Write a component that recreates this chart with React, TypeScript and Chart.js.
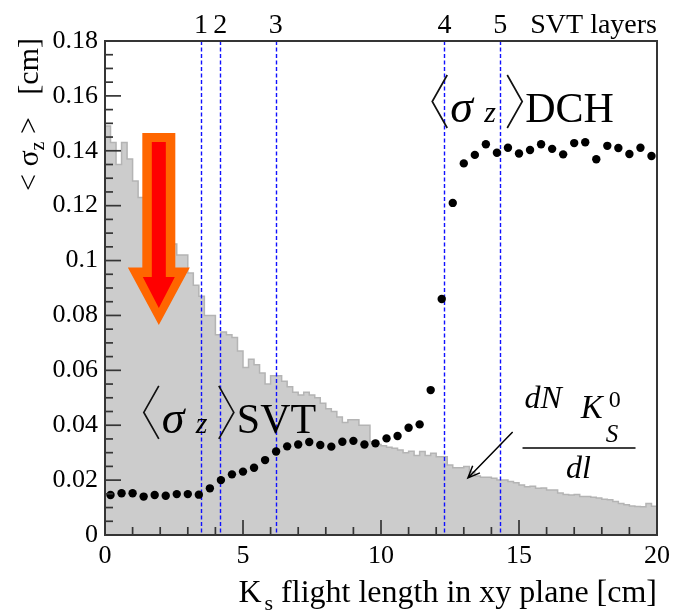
import React, { useEffect, useRef } from 'react';
import { Chart, registerables } from 'chart.js';

Chart.register(...registerables);

// dN/dl of K0S candidates, 0.2 cm bins from 0 to 20 cm (drawn on the sigma_z scale)
const HIST_X_MIN = 0;
const HIST_BIN_WIDTH = 0.2;
const dNdl = [
  0.149, 0.143, 0.135, 0.143, 0.137, 0.129, 0.123, 0.119, 0.116, 0.113,
  0.111, 0.108, 0.106, 0.102, 0.102, 0.0955, 0.091, 0.087, 0.08, 0.08,
  0.073, 0.074, 0.073, 0.072, 0.067, 0.061, 0.064, 0.062, 0.059, 0.055,
  0.058, 0.058, 0.056, 0.054, 0.052, 0.051, 0.052, 0.051, 0.05, 0.048,
  0.046, 0.045, 0.043, 0.041, 0.042, 0.042, 0.04, 0.04, 0.034, 0.033,
  0.0325, 0.032, 0.0316, 0.031, 0.03, 0.0305, 0.029, 0.0304, 0.029, 0.0298,
  0.0285, 0.0285, 0.0255, 0.0245, 0.0245, 0.025, 0.023, 0.0215, 0.021, 0.021,
  0.0207, 0.02, 0.02, 0.0195, 0.019, 0.0182, 0.0176, 0.0178, 0.017, 0.0171,
  0.0164, 0.0164, 0.0153, 0.0148, 0.0146, 0.0148, 0.014, 0.014, 0.0138, 0.0135,
  0.013, 0.0128, 0.0122, 0.0115, 0.011, 0.0106, 0.0104, 0.0103, 0.0115, 0.0105,
];

// mean sigma_z [cm] versus flight length [cm]
const flightLength = [
  0.2, 0.6, 1.0, 1.4, 1.8, 2.2, 2.6, 3.0, 3.4, 3.8,
  4.2, 4.6, 5.0, 5.4, 5.8, 6.2, 6.6, 7.0, 7.4, 7.8,
  8.2, 8.6, 9.0, 9.4, 9.8, 10.2, 10.6, 11.0, 11.4, 11.8,
  12.2, 12.6, 13.0, 13.4, 13.8, 14.2, 14.6, 15.0, 15.4, 15.8,
  16.2, 16.6, 17.0, 17.4, 17.8, 18.2, 18.6, 19.0, 19.4, 19.8,
];
const sigmaZ = [
  0.0146, 0.0152, 0.0152, 0.014, 0.0146, 0.0143, 0.0149, 0.0149, 0.0147, 0.017,
  0.02, 0.0221, 0.0231, 0.0245, 0.0273, 0.0304, 0.0323, 0.033, 0.0339, 0.0328,
  0.0322, 0.034, 0.0343, 0.033, 0.0334, 0.0352, 0.0361, 0.0391, 0.0403, 0.0528,
  0.086, 0.121, 0.1354, 0.1385, 0.1424, 0.1393, 0.1411, 0.139, 0.1403, 0.1424,
  0.1407, 0.1387, 0.1428, 0.1431, 0.1369, 0.1418, 0.141, 0.1388, 0.1411, 0.1381,
];

// SVT layer radii [cm]
const svtLayerRadius = [3.48, 4.18, 6.19, 12.3, 14.32];
const svtLayerLabels = ['1', '2', '3', '4', '5'];

const xTickValues = [0, 5, 10, 15, 20];
const xTickLabels = ['0', '5', '10', '15', '20'];
const yTickValues = [0, 0.02, 0.04, 0.06, 0.08, 0.1, 0.12, 0.14, 0.16, 0.18];
const yTickLabels = ['0', '0.02', '0.04', '0.06', '0.08', '0.1', '0.12', '0.14', '0.16', '0.18'];

const X_MIN = 0;
const X_MAX = 20;
const Y_MIN = 0;
const Y_MAX = 0.18;
const X_MINOR = 1;
const Y_MINOR = 0.005;

// annotation anchors in data units
const DCH_LABEL_AT = [11.82, 0.1505];
const SVT_LABEL_AT = [1.37, 0.0372];
const DNDL_LABEL_AT = [15.2, 0.0463];
const POINTER_FROM = [14.77, 0.0375];
const POINTER_TO = [13.15, 0.0208];
const BIG_ARROW = { x: 1.95, yTop: 0.1465, yTip: 0.0765 };

const SERIF = '"Liberation Serif", "Times New Roman", serif';
const AXIS_COLOR = '#353535';

type Run = { t: string; f: string; dy?: number; dx?: number };

function labelFor(values: number[], labels: string[], v: number) {
  const i = values.findIndex((t) => Math.abs(t - v) < 1e-9);
  return i >= 0 ? labels[i] : '';
}

function drawRuns(ctx: CanvasRenderingContext2D, x: number, y: number, runs: Run[]) {
  let cx = x;
  for (const r of runs) {
    ctx.font = r.f;
    cx += r.dx || 0;
    ctx.fillText(r.t, cx, y + (r.dy || 0));
    cx += ctx.measureText(r.t).width;
  }
  return cx;
}

function runsWidth(ctx: CanvasRenderingContext2D, runs: Run[]) {
  let w = 0;
  for (const r of runs) {
    ctx.font = r.f;
    w += ctx.measureText(r.t).width + (r.dx || 0);
  }
  return w;
}

// <sigma_z> followed by a detector name; thin angle delimiters stroked around sigma_z
function drawSigmaLabel(ctx: CanvasRenderingContext2D, x0: number, y0: number, name: string) {
  ctx.save();
  ctx.strokeStyle = '#111';
  ctx.lineWidth = 1.7;
  ctx.lineJoin = 'miter';
  ctx.beginPath();
  ctx.moveTo(x0 + 16, y0 - 47);
  ctx.lineTo(x0 + 1, y0 - 20.5);
  ctx.lineTo(x0 + 16, y0 + 6);
  ctx.moveTo(x0 + 76, y0 - 47);
  ctx.lineTo(x0 + 91, y0 - 20.5);
  ctx.lineTo(x0 + 76, y0 + 6);
  ctx.stroke();
  ctx.restore();
  const pieces: [string, string, number][] = [
    ['\u03C3', `italic 46px ${SERIF}`, 19],
    ['z', `italic 30px ${SERIF}`, 53],
    [name, `42px ${SERIF}`, 94],
  ];
  for (const [t, f, dx] of pieces) {
    ctx.font = f;
    ctx.fillText(t, x0 + dx, y0);
  }
}

const decorPlugin = {
  id: 'decor',
  afterDatasetDraw(chart: any, args: any) {
    if (args.index !== 0) return;
    const ctx = chart.ctx as CanvasRenderingContext2D;
    const { top, bottom } = chart.chartArea;
    const xs = chart.scales.x;
    ctx.save();
    ctx.strokeStyle = '#1010ff';
    ctx.lineWidth = 1.4;
    ctx.setLineDash([4, 2.5]);
    for (const r of svtLayerRadius) {
      const px = Math.round(xs.getPixelForValue(r)) + 0.5;
      ctx.beginPath();
      ctx.moveTo(px, top);
      ctx.lineTo(px, bottom);
      ctx.stroke();
    }
    ctx.restore();
  },
  afterDraw(chart: any) {
    const ctx = chart.ctx as CanvasRenderingContext2D;
    const { left, right, top, bottom } = chart.chartArea;
    const xs = chart.scales.x;
    const ys = chart.scales.y;
    const P = (xv: number, yv: number) => [xs.getPixelForValue(xv), ys.getPixelForValue(yv)];

    ctx.save();
    // frame
    ctx.strokeStyle = AXIS_COLOR;
    ctx.lineWidth = 2;
    ctx.strokeRect(left, top, right - left, bottom - top);

    // inward tick marks
    ctx.lineWidth = 1.7;
    for (let k = 0; X_MIN + k * X_MINOR <= X_MAX + 1e-9; k++) {
      const v = X_MIN + k * X_MINOR;
      const px = xs.getPixelForValue(v);
      const len = k % 5 === 0 ? 15 : 8;
      ctx.beginPath();
      ctx.moveTo(px, bottom);
      ctx.lineTo(px, bottom - len);
      ctx.stroke();
    }
    for (let k = 0; Y_MIN + k * Y_MINOR <= Y_MAX + 1e-9; k++) {
      const v = Y_MIN + k * Y_MINOR;
      const py = ys.getPixelForValue(v);
      const len = k % 4 === 0 ? 16 : 8;
      ctx.beginPath();
      ctx.moveTo(left, py);
      ctx.lineTo(left + len, py);
      ctx.stroke();
    }

    ctx.fillStyle = '#000';
    ctx.textBaseline = 'alphabetic';

    // SVT layer numbers above the frame
    ctx.font = `28px ${SERIF}`;
    ctx.textAlign = 'center';
    svtLayerRadius.forEach((r, i) => {
      ctx.fillText(svtLayerLabels[i], xs.getPixelForValue(r), top - 8);
    });
    ctx.textAlign = 'right';
    ctx.fillText('SVT layers', right, top - 8);
    ctx.textAlign = 'left';

    // big downward arrow
    {
      const [cx, yTop] = P(BIG_ARROW.x, BIG_ARROW.yTop);
      const yTip = ys.getPixelForValue(BIG_ARROW.yTip);
      const h = yTip - yTop;
      const poly = (sh: number, t: number, hb: number, hh: number, tip: number) => {
        ctx.beginPath();
        ctx.moveTo(cx - sh, t);
        ctx.lineTo(cx + sh, t);
        ctx.lineTo(cx + sh, hb);
        ctx.lineTo(cx + hh, hb);
        ctx.lineTo(cx, tip);
        ctx.lineTo(cx - hh, hb);
        ctx.lineTo(cx - sh, hb);
        ctx.closePath();
        ctx.fill();
      };
      ctx.fillStyle = '#ff6600';
      poly(16.5, yTop, yTop + h * 0.70, 31, yTip);
      ctx.fillStyle = '#ff0000';
      poly(7, yTop + 9, yTop + h * 0.75, 16, yTip - 17);
      ctx.fillStyle = '#000';
    }

    // <sigma_z>_DCH and <sigma_z>_SVT
    {
      const [x0, y0] = P(DCH_LABEL_AT[0], DCH_LABEL_AT[1]);
      drawSigmaLabel(ctx, x0, y0, 'DCH');
      const [x1, y1] = P(SVT_LABEL_AT[0], SVT_LABEL_AT[1]);
      drawSigmaLabel(ctx, x1, y1, 'SVT');
    }
    // dN_{K0S}/dl
    {
      const [x0, y0] = P(DNDL_LABEL_AT[0], DNDL_LABEL_AT[1]);
      const it = `italic 32px ${SERIF}`;
      ctx.font = it;
      ctx.fillText('dN', x0, y0);
      const kx = x0 + ctx.measureText('dN').width + 19;
      ctx.font = `italic 33px ${SERIF}`;
      ctx.fillText('K', kx, y0 + 10);
      const sx = kx + ctx.measureText('K').width + 6;
      ctx.font = `24px ${SERIF}`;
      ctx.fillText('0', sx, y0 - 1);
      ctx.font = `italic 25px ${SERIF}`;
      ctx.fillText('S', sx - 3, y0 + 34);
      ctx.lineWidth = 1.5;
      ctx.strokeStyle = '#000';
      ctx.beginPath();
      ctx.moveTo(x0 - 2, y0 + 40);
      ctx.lineTo(x0 + 111, y0 + 40);
      ctx.stroke();
      ctx.font = it;
      ctx.textAlign = 'center';
      ctx.fillText('dl', x0 + 54, y0 + 70);
      ctx.textAlign = 'left';
    }
    // pointer to the histogram
    {
      const [ax, ay] = P(POINTER_FROM[0], POINTER_FROM[1]);
      const [bx, by] = P(POINTER_TO[0], POINTER_TO[1]);
      ctx.strokeStyle = '#000';
      ctx.lineWidth = 1.5;
      ctx.beginPath();
      ctx.moveTo(ax, ay);
      ctx.lineTo(bx, by);
      const ang = Math.atan2(ay - by, ax - bx);
      const L = 13;
      ctx.moveTo(bx + L * Math.cos(ang + 0.4), by + L * Math.sin(ang + 0.4));
      ctx.lineTo(bx, by);
      ctx.lineTo(bx + L * Math.cos(ang - 0.4), by + L * Math.sin(ang - 0.4));
      ctx.stroke();
    }

    // x-axis title
    {
      const runs: Run[] = [
        { t: 'K', f: `32px ${SERIF}` },
        { t: 's', f: `22px ${SERIF}`, dy: 8, dx: 3 },
        { t: ' flight length in xy plane [cm]', f: `32px ${SERIF}` },
      ];
      const w = runsWidth(ctx, runs);
      drawRuns(ctx, right - w, 602, runs);
    }
    // y-axis title (rotated)
    {
      const runs: Run[] = [
        { t: '< ', f: `30px ${SERIF}` },
        { t: '\u03C3', f: `30px ${SERIF}` },
        { t: 'z', f: `20px ${SERIF}`, dy: 6 },
        { t: ' >   [cm]', f: `30px ${SERIF}` },
      ];
      const w = runsWidth(ctx, runs);
      ctx.save();
      ctx.translate(38, top - 3);
      ctx.rotate(-Math.PI / 2);
      drawRuns(ctx, -w, 0, runs);
      ctx.restore();
    }
    ctx.restore();
  },
};

export default function App() {
  const canvasRef = useRef<HTMLCanvasElement | null>(null);

  useEffect(() => {
    const canvas = canvasRef.current;
    if (!canvas) return;

    const histPoints = dNdl.map((v, k) => ({ x: HIST_X_MIN + k * HIST_BIN_WIDTH, y: v }));
    histPoints.push({ x: HIST_X_MIN + dNdl.length * HIST_BIN_WIDTH, y: dNdl[dNdl.length - 1] });
    const sigmaPoints = flightLength.map((x, i) => ({ x, y: sigmaZ[i] }));

    const chart = new Chart(canvas, {
      type: 'scatter',
      data: {
        datasets: [
          {
            data: histPoints,
            showLine: true,
            stepped: true,
            fill: 'origin',
            backgroundColor: '#cccccc',
            borderColor: '#b4b4b4',
            borderWidth: 1.5,
            pointRadius: 0,
            order: 2,
          } as any,
          {
            data: sigmaPoints,
            showLine: false,
            pointRadius: 4.2,
            pointBackgroundColor: '#000',
            pointBorderWidth: 0,
            order: 1,
          } as any,
        ],
      },
      options: {
        responsive: false,
        animation: false,
        events: [],
        layout: { padding: { top: 41, right: 16, left: 0, bottom: 0 } },
        plugins: { legend: { display: false }, tooltip: { enabled: false } },
        scales: {
          x: {
            type: 'linear',
            min: X_MIN,
            max: X_MAX,
            grid: { display: false, drawTicks: false },
            border: { display: false },
            afterBuildTicks: (scale: any) => {
              scale.ticks = xTickValues.map((value) => ({ value }));
            },
            afterFit: (scale: any) => {
              scale.height = 76;
            },
            ticks: {
              color: '#000',
              padding: 6,
              maxRotation: 0,
              font: { family: SERIF, size: 26 },
              callback: (v: any) => labelFor(xTickValues, xTickLabels, Number(v)),
            },
          },
          y: {
            type: 'linear',
            min: Y_MIN,
            max: Y_MAX,
            grid: { display: false, drawTicks: false },
            border: { display: false },
            afterBuildTicks: (scale: any) => {
              scale.ticks = yTickValues.map((value) => ({ value }));
            },
            afterFit: (scale: any) => {
              scale.width = 105;
            },
            ticks: {
              color: '#000',
              padding: 7,
              font: { family: SERIF, size: 26 },
              callback: (v: any) => labelFor(yTickValues, yTickLabels, Number(v)),
            },
          },
        },
      },
      plugins: [decorPlugin],
    });

    return () => chart.destroy();
  }, []);

  return (
    <div style={{ position: 'absolute', left: 0, top: 0, width: 676, height: 611, background: '#fff' }}>
      <canvas ref={canvasRef} width={676} height={611} />
    </div>
  );
}
